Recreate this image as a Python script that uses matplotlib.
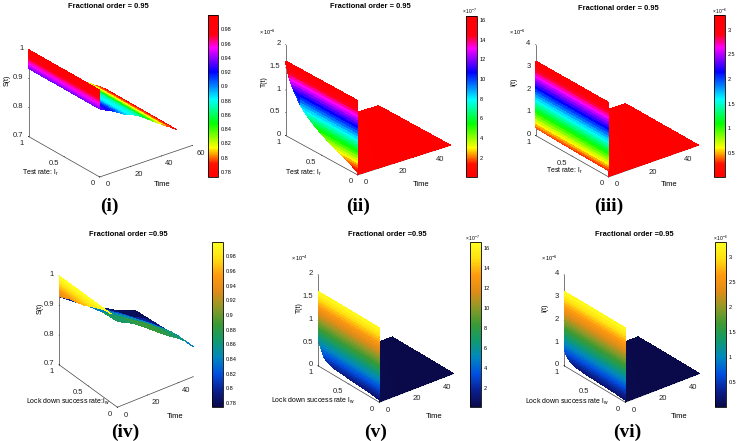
import numpy as np
import matplotlib
matplotlib.use("Agg")
import matplotlib.pyplot as plt
from matplotlib.cm import ScalarMappable
from matplotlib.colors import LinearSegmentedColormap, Normalize
from mpl_toolkits.mplot3d import proj3d

plt.rcParams["font.family"] = ["Liberation Sans", "DejaVu Sans"]

W_PX, H_PX = 742, 441

rate = [0, 0.1, 0.2, 0.3, 0.4, 0.5, 0.6, 0.7, 0.8, 0.9, 0.95, 1]
slope_time = [0, 2.5, 5, 7.5, 10, 12.5, 15, 17.5, 20, 22.5, 25,
              27.5, 30, 32.5, 35, 37.5, 40, 42.5, 45, 47.5, 50]
floor_time = [0, 10, 20, 30, 40, 50]

# wall at t=0, values top to bottom
S_levels = [1.0, 0.995, 0.99, 0.985, 0.98, 0.975, 0.97, 0.965, 0.96, 0.955,
            0.95, 0.945, 0.94, 0.935, 0.93]
T_levels = [1.64, 1.58, 1.52, 1.46, 1.4, 1.34, 1.28, 1.22, 1.16, 1.1, 1.04,
            0.98, 0.92, 0.86, 0.8, 0.74, 0.68, 0.62, 0.56, 0.5, 0.44, 0.38,
            0.32, 0.27, 0.22, 0.17, 0.12, 0.08, 0.05, 0.03]
I_levels = [3.28, 3.16, 3.04, 2.92, 2.8, 2.68, 2.56, 2.44, 2.32, 2.2, 2.08,
            1.96, 1.84, 1.72, 1.6, 1.48, 1.36, 1.24, 1.12, 1.0, 0.88, 0.76,
            0.64, 0.54, 0.44, 0.36, 0.28, 0.2, 0.14, 0.1]

# lower end of the wall for each rate
bottom_i = [0.935] * 12
bottom_ii = [0.05, 0.15, 0.22, 0.3, 0.37, 0.46, 0.56, 0.68, 0.85, 1.12, 1.3, 1.6]
bottom_iii = [0.28, 0.28, 0.28, 0.29, 0.29, 0.3, 0.3, 0.31, 0.32, 0.33, 0.33, 0.34]
bottom_iv = [1.0, 1.0, 0.998, 0.99, 0.98, 0.97, 0.96, 0.955, 0.95, 0.94, 0.935, 0.93]
bottom_v = [0.05, 0.07, 0.09, 0.1, 0.11, 0.12, 0.13, 0.14, 0.17, 0.25, 0.4, 0.6]
bottom_vi = [0.1, 0.12, 0.14, 0.15, 0.16, 0.17, 0.18, 0.2, 0.24, 0.33, 0.45, 0.7]

S_curve_i = [0.935, 0.928, 0.921, 0.915, 0.908, 0.899, 0.891, 0.883, 0.88,
             0.873, 0.867, 0.857, 0.848, 0.838, 0.828, 0.818, 0.81, 0.80,
             0.792, 0.782, 0.772]

# (iv) changes with rate as well, rows are rates, columns are times
iv_rate = [0, 0.25, 0.5, 0.75, 1]
iv_time = [0, 5, 10, 15, 20, 25, 30, 35, 40, 45, 50]
S_table_iv = [
    [0.99, 0.975, 0.963, 0.945, 0.925, 0.905, 0.885, 0.867, 0.85, 0.83, 0.80],
    [0.985, 0.968, 0.95, 0.933, 0.916, 0.899, 0.882, 0.862, 0.845, 0.825, 0.80],
    [0.97, 0.953, 0.935, 0.918, 0.901, 0.884, 0.866, 0.848, 0.83, 0.81, 0.79],
    [0.95, 0.933, 0.915, 0.898, 0.881, 0.864, 0.848, 0.83, 0.813, 0.80, 0.785],
    [0.93, 0.913, 0.895, 0.878, 0.861, 0.845, 0.829, 0.813, 0.80, 0.79, 0.78],
]
# the dark part of (iv) is coloured lower than its height
S_shade_iv = [
    [0.87, 0.87, 0.88, 0.885, 0.885, 0.885, 0.88, 0.87, 0.86, 0.84, 0.80],
    [0.84, 0.84, 0.85, 0.85, 0.85, 0.85, 0.845, 0.84, 0.83, 0.82, 0.79],
    [0.82, 0.82, 0.82, 0.82, 0.82, 0.82, 0.81, 0.80, 0.80, 0.79, 0.78],
    [0.80, 0.80, 0.80, 0.80, 0.79, 0.79, 0.785, 0.78, 0.78, 0.78, 0.78],
    [0.79, 0.79, 0.79, 0.785, 0.78, 0.78, 0.78, 0.78, 0.78, 0.78, 0.78],
]
T_floor = [0.012, 0.008, 0.006, 0.005, 0.004, 0.004]
I_floor = [0.03, 0.02, 0.015, 0.012, 0.01, 0.01]

s_ticks = [0.78, 0.8, 0.82, 0.84, 0.86, 0.88, 0.9, 0.92, 0.94, 0.96, 0.98]
s_labels = ["0.78", "0.8", "0.82", "0.84", "0.86", "0.88", "0.9", "0.92", "0.94", "0.96", "0.98"]
t_ticks = [2, 4, 6, 8, 10, 12, 14, 16]
i_ticks = [0.5, 1, 1.5, 2, 2.5, 3]
i_labels = ["0.5", "1", "1.5", "2", "2.5", "3"]

rainbow_map = LinearSegmentedColormap.from_list(
    "rainbow_map",
    [(0, "#ff0000"), (0.08, "#ff1000"), (0.18, "#ffff00"), (0.33, "#00ff00"),
     (0.48, "#00ffff"), (0.65, "#0000ff"), (0.8, "#ff00ff"), (0.88, "#ff0010"),
     (1, "#ff0000")],
)
dark_map = LinearSegmentedColormap.from_list(
    "dark_map",
    ["#0a0a4a", "#0a1f90", "#0050e0", "#0088c0", "#109a70", "#3a9a35",
     "#8c9a28", "#e08c18", "#ff9a10", "#ffe010", "#ffff20"],
)

panels = [
    dict(tag="(i)", tag_xy=(109, 206), title="Fractional order = 0.95", title_xy=(108, 7),
         origin=(100, 177), rate_px=(72, 41), time_px=(94, 32), z_px=88,
         tmax=60, xticks=[0, 20, 40, 60], zlim=(0.7, 1), zticks=[0.7, 0.8, 0.9, 1],
         zlabels=["0.7", "0.8", "0.9", "1"], levels=S_levels, bottom=bottom_i,
         rates=rate, times=slope_time, curve=S_curve_i, shade=None, floor=False,
         cmap=rainbow_map, clim=(0.772, 1.0),
         ylabel="S(t)", ylabel_xy=(7, 80), rate_label="Test rate: $\\mathregular{l_r}$",
         rate_xy=(40, 173), time_xy=(162, 184), scale=None, scale_xy=None,
         bar=(208, 15, 10, 162), bar_lim=(0.773, 1.0), bar_ticks=s_ticks, bar_labels=s_labels,
         bar_scale=None, bar_scale_xy=None),
    dict(tag="(ii)", tag_xy=(358, 206), title="Fractional order = 0.95", title_xy=(370, 7),
         origin=(358, 175), rate_px=(73, 40), time_px=(94, 30), z_px=92,
         tmax=50, xticks=[0, 20, 40], zlim=(0, 2), zticks=[0, 0.5, 1, 1.5, 2],
         zlabels=["0", "0.5", "1", "1.5", "2"], levels=T_levels, bottom=bottom_ii,
         rates=rate, times=floor_time, curve=T_floor, shade=None, floor=True,
         cmap=rainbow_map, clim=(0.003, 1.64),
         ylabel="T(t)", ylabel_xy=(264, 82), rate_label="Test rate: $\\mathregular{l_r}$",
         rate_xy=(303, 173), time_xy=(421, 184), scale="$\\mathregular{\\times\\,10^{-6}}$",
         scale_xy=(267, 32), bar=(466, 16, 11, 161), bar_lim=(0.03, 16.4), bar_ticks=t_ticks,
         bar_labels=t_ticks, bar_scale="$\\mathregular{\\times\\,10^{-7}}$", bar_scale_xy=(469, 11)),
    dict(tag="(iii)", tag_xy=(609, 206), title="Fractional order = 0.95", title_xy=(618, 8),
         origin=(609, 177), rate_px=(74, 42), time_px=(91, 32), z_px=92,
         tmax=50, xticks=[0, 20, 40], zlim=(0, 4), zticks=[0, 1, 2, 3, 4],
         zlabels=["0", "1", "2", "3", "4"], levels=I_levels, bottom=bottom_iii,
         rates=rate, times=floor_time, curve=I_floor, shade=None, floor=True,
         cmap=rainbow_map, clim=(0.01, 3.3),
         ylabel="I(t)", ylabel_xy=(514, 82), rate_label="Test rate: $\\mathregular{l_r}$",
         rate_xy=(564, 171), time_xy=(669, 184), scale="$\\mathregular{\\times\\,10^{-6}}$",
         scale_xy=(517, 32), bar=(714, 15, 11, 162), bar_lim=(0.01, 3.3), bar_ticks=i_ticks,
         bar_labels=i_labels, bar_scale="$\\mathregular{\\times\\,10^{-6}}$", bar_scale_xy=(719, 11)),
    dict(tag="(iv)", tag_xy=(125, 432), title="Fractional order =0.95", title_xy=(128, 235),
         origin=(118, 407), rate_px=(59, 43), time_px=(77, 31), z_px=90,
         tmax=50, xticks=[0, 20, 40], zlim=(0.7, 1), zticks=[0.7, 0.8, 0.9, 1],
         zlabels=["0.7", "0.8", "0.9", "1"], levels=S_levels, bottom=bottom_iv,
         rates=iv_rate, times=iv_time, curve=S_table_iv, shade=S_shade_iv, floor=False,
         cmap=dark_map, clim=(0.775, 1.0),
         ylabel="S(t)", ylabel_xy=(40, 308),
         rate_label="Lock down success rate:$\\mathregular{l_w}$", rate_xy=(68, 402),
         time_xy=(175, 416), scale=None, scale_xy=None, bar=(212, 242, 11, 165),
         bar_lim=(0.7745, 0.9995), bar_ticks=s_ticks, bar_labels=s_labels,
         bar_scale=None, bar_scale_xy=None),
    dict(tag="(v)", tag_xy=(376, 432), title="Fractional order =0.95", title_xy=(387, 235),
         origin=(380, 402), rate_px=(62, 37), time_px=(75, 29), z_px=92,
         tmax=50, xticks=[0, 20, 40], zlim=(0, 2), zticks=[0, 0.5, 1, 1.5, 2],
         zlabels=["0", "0.5", "1", "1.5", "2"], levels=T_levels, bottom=bottom_v,
         rates=rate, times=floor_time, curve=T_floor, shade=None, floor=True,
         cmap=dark_map, clim=(0.003, 1.66),
         ylabel="T(t)", ylabel_xy=(299, 308),
         rate_label="Lock down success rate $\\mathregular{l_w}$", rate_xy=(313, 401),
         time_xy=(434, 416), scale="$\\mathregular{\\times\\,10^{-4}}$", scale_xy=(299, 258),
         bar=(470, 242, 11, 165), bar_lim=(0.06, 16.6), bar_ticks=t_ticks, bar_labels=t_ticks,
         bar_scale="$\\mathregular{\\times\\,10^{-7}}$", bar_scale_xy=(472, 238)),
    dict(tag="(vi)", tag_xy=(627, 432), title="Fractional order =0.95", title_xy=(634, 235),
         origin=(626, 402), rate_px=(62, 37), time_px=(75, 29), z_px=92,
         tmax=50, xticks=[0, 20, 40], zlim=(0, 4), zticks=[0, 1, 2, 3, 4],
         zlabels=["0", "1", "2", "3", "4"], levels=I_levels, bottom=bottom_vi,
         rates=rate, times=floor_time, curve=I_floor, shade=None, floor=True,
         cmap=dark_map, clim=(0.01, 3.3),
         ylabel="I(t)", ylabel_xy=(545, 308),
         rate_label="Lock down success rate $\\mathregular{l_w}$", rate_xy=(567, 402),
         time_xy=(679, 416), scale="$\\mathregular{\\times\\,10^{-6}}$", scale_xy=(549, 258),
         bar=(715, 242, 11, 165), bar_lim=(0.01, 3.3), bar_ticks=i_ticks, bar_labels=i_labels,
         bar_scale="$\\mathregular{\\times\\,10^{-6}}$", bar_scale_xy=(720, 238)),
]


def label(fig, xy, text, **kw):
    fig.text(xy[0] / W_PX, 1 - xy[1] / H_PX, text, ha="center", va="center", **kw)


def make_axes(fig, p):
    # work out the view from where the three axes lie on the image
    tx, ty = p["time_px"]
    rx, ry = p["rate_px"]
    s = np.sqrt(ty / tx * ry / rx)
    elev = np.degrees(np.arcsin(s))
    ratio = (ty / tx) / s
    azim = -180 + np.degrees(np.arctan2(1, ratio))
    u = np.sin(np.radians(180 + azim))
    v = np.cos(np.radians(180 + azim))
    box = (tx / u, rx / v, p["z_px"] / np.cos(np.radians(elev)))
    width = 1.015 * 1.8 * np.linalg.norm(box) / (1.8294640721620434 * 25 / 24)
    cx = p["origin"][0] + (tx - rx) / 2 - 3
    cy = p["origin"][1] - (ty + ry + p["z_px"]) / 2 + 3.5
    ax = fig.add_axes(
        [(cx - width / 2) / W_PX, 1 - (cy + width / 2) / H_PX, width / W_PX, width / H_PX],
        projection="3d",
        computed_zorder=False,
    )
    ax.set_proj_type("ortho")
    ax.view_init(elev=elev, azim=azim)
    ax.set_box_aspect(box)
    ax.patch.set_alpha(0)
    return ax


def tick_text(ax, pos, text, dx, dy, ha):
    # tick labels of mplot3d sit too low, so place them from the tick itself
    x2, y2, _ = proj3d.proj_transform(pos[0], pos[1], pos[2], ax.get_proj())
    ax.annotate(text, xy=(x2, y2), xytext=(dx, dy), textcoords="offset pixels",
                fontsize=5.5, color="#222222", ha=ha, va="center", annotation_clip=False)


def draw_panel(fig, p):
    ax = make_axes(fig, p)
    norm = Normalize(*p["clim"])
    cmap = p["cmap"]

    # sloped part / floor
    times = np.array(p["times"], dtype=float)
    rates = np.array(p["rates"], dtype=float)
    tt, rr = np.meshgrid(times, rates)
    zz = np.array(p["curve"], dtype=float)
    if zz.ndim == 1:
        zz = np.tile(zz, (len(rates), 1))
    if p["floor"]:
        # floor only shows to the right of the wall's front edge
        start = rates * p["rate_px"][0] / p["time_px"][0] * p["tmax"] * 0.97
        tt = start[:, None] + (p["tmax"] - start)[:, None] * times[None, :] / p["tmax"]
    if p["shade"] is None:
        ax.plot_surface(tt, rr, zz, cmap=cmap, norm=norm, shade=False,
                        antialiased=False, linewidth=0, zorder=2)
    else:
        ax.plot_surface(tt, rr, zz, facecolors=cmap(norm(np.array(p["shade"]))), shade=False,
                        antialiased=False, linewidth=0, zorder=2)

    # wall at t=0
    rw, lw = np.meshgrid(rate, p["levels"])
    zw = np.maximum(lw, np.array(p["bottom"]))
    ax.plot_surface(np.zeros_like(zw), rw, zw, cmap=cmap, norm=norm, shade=False,
                    antialiased=False, linewidth=0, zorder=3)

    ax.set_xlim(0, p["tmax"])
    ax.set_ylim(0, 1)
    ax.set_zlim(*p["zlim"])
    ax.set_xticks(p["xticks"], [""] * len(p["xticks"]))
    ax.set_yticks([0, 0.5, 1], ["", "", ""])
    ax.set_zticks(p["zticks"], [""] * len(p["zticks"]))
    ax.grid(False)
    for axis in (ax.xaxis, ax.yaxis, ax.zaxis):
        axis.pane.set_visible(False)
        axis.line.set_color("#444444")
        axis.line.set_linewidth(0.5)
        axis._axinfo["tick"]["linewidth"] = {True: 0.4, False: 0.3}
        axis._axinfo["tick"]["inward_factor"] = 0.0
        axis._axinfo["tick"]["outward_factor"] = 0.04

    z0 = p["zlim"][0]
    for v in p["xticks"]:
        tick_text(ax, (v, 0, z0), str(v), 8, -8, "center")
    for v, s in zip([0, 0.5, 1], ["0", "0.5", "1"]):
        tick_text(ax, (0, v, z0), s, -5, -7, "right")
    for v, s in zip(p["zticks"], p["zlabels"]):
        tick_text(ax, (0, 1, v), s, -5, 1, "right")

    label(fig, p["title_xy"], p["title"], fontsize=5.4, fontweight="bold")
    label(fig, p["tag_xy"], p["tag"], fontsize=14, fontweight="bold", family="Liberation Serif")
    label(fig, p["ylabel_xy"], p["ylabel"], fontsize=5, rotation=90)
    label(fig, p["rate_xy"], p["rate_label"], fontsize=5)
    label(fig, p["time_xy"], "Time", fontsize=5.5)
    if p["scale"]:
        label(fig, p["scale_xy"], p["scale"], fontsize=4)

    x, y, w, h = p["bar"]
    cax = fig.add_axes([x / W_PX, 1 - (y + h) / H_PX, w / W_PX, h / H_PX])
    cb = fig.colorbar(ScalarMappable(norm=Normalize(*p["bar_lim"]), cmap=cmap), cax=cax)
    cb.set_ticks(p["bar_ticks"], labels=[str(v) for v in p["bar_labels"]])
    cb.ax.tick_params(labelsize=4, length=1, width=0.3, pad=1)
    cb.outline.set_linewidth(0.6)
    if p["bar_scale"]:
        label(fig, p["bar_scale_xy"], p["bar_scale"], fontsize=3.5)


fig = plt.figure(figsize=(W_PX / 100, H_PX / 100), dpi=100)
for panel in panels:
    draw_panel(fig, panel)
fig.savefig("out.png", dpi=100)
